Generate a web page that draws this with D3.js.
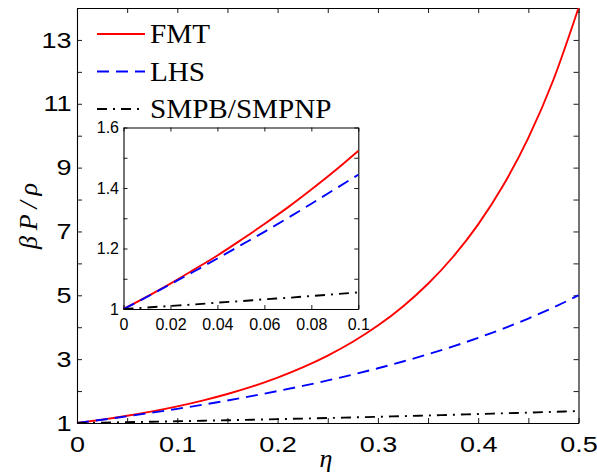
<!DOCTYPE html>
<html>
<head>
<meta charset="utf-8">
<script src="https://cdn.jsdelivr.net/npm/d3@7"></script>
<style>
  html, body { margin: 0; padding: 0; background: #fff; }
  svg { display: block; }
</style>
</head>
<body>
<svg id="chart" width="597" height="475"></svg>
<script>
// Packing fraction (main panel)
const eta = [0, 0.025, 0.05, 0.075, 0.1, 0.125, 0.15, 0.175, 0.2, 0.225, 0.25,
             0.275, 0.3, 0.325, 0.35, 0.375, 0.4, 0.425, 0.45, 0.475, 0.5];
// Reduced pressure βP/ρ for each theory
const fmt  = [1, 1.107, 1.228, 1.365, 1.523, 1.703, 1.909, 2.147, 2.422, 2.740, 3.111,
              3.544, 4.052, 4.652, 5.362, 6.208, 7.222, 8.446, 9.932, 11.753, 14.0];
const lhs  = [1, 1.103, 1.211, 1.324, 1.444, 1.571, 1.706, 1.848, 2.000, 2.161, 2.333,
              2.517, 2.714, 2.926, 3.154, 3.400, 3.667, 3.957, 4.273, 4.619, 5.0];
const smpb = [1, 1.013, 1.026, 1.040, 1.055, 1.070, 1.086, 1.103, 1.120, 1.138, 1.156,
              1.175, 1.195, 1.215, 1.236, 1.258, 1.280, 1.303, 1.326, 1.350, 1.375];

// Low-density close-up (inset)
const etaInset  = [0, 0.01, 0.02, 0.03, 0.04, 0.05, 0.06, 0.07, 0.08, 0.09, 0.1];
const fmtInset  = [1, 1.041, 1.084, 1.130, 1.177, 1.228, 1.281, 1.336, 1.395, 1.457, 1.523];
const lhsInset  = [1, 1.040, 1.082, 1.124, 1.167, 1.211, 1.255, 1.301, 1.348, 1.396, 1.444];
const smpbInset = [1, 1.005, 1.010, 1.015, 1.021, 1.026, 1.032, 1.037, 1.043, 1.049, 1.055];

// Ticks
const xTicks       = [0, 0.05, 0.1, 0.15, 0.2, 0.25, 0.3, 0.35, 0.4, 0.45, 0.5];
const xTickLabels  = ["0", "", "0.1", "", "0.2", "", "0.3", "", "0.4", "", "0.5"];
const yTicks       = [1, 2, 3, 4, 5, 6, 7, 8, 9, 10, 11, 12, 13, 14];
const yTickLabels  = ["1", "", "3", "", "5", "", "7", "", "9", "", "11", "", "13", ""];
const ixTicks      = [0, 0.02, 0.04, 0.06, 0.08, 0.1];
const ixTickLabels = ["0", "0.02", "0.04", "0.06", "0.08", "0.1"];
const iyTicks      = [1, 1.1, 1.2, 1.3, 1.4, 1.5, 1.6];
const iyTickLabels = ["1", "", "1.2", "", "1.4", "", "1.6"];

// Legend entries
const seriesNames = ["FMT", "LHS", "SMPB/SMPNP"];

const styles = [
  { color: "#ff0000", dash: null },
  { color: "#0000ff", dash: "12,7" },
  { color: "#000000", dash: "10,6,2,6" }
];

const svg = d3.select("#chart");
const sansFont = "'Liberation Sans', Arial, Helvetica, sans-serif";
const serifFont = "'Liberation Serif', 'Times New Roman', serif";

// ---------- main panel ----------
const x = d3.scaleLinear().domain([0, 0.5]).range([77, 578.5]);
const y = d3.scaleLinear().domain([1, 14]).range([423, 8]);

function styleAxis(g, fontSize) {
  g.selectAll("path.domain").attr("stroke", "#000").attr("stroke-width", 1.1);
  g.selectAll(".tick line").attr("stroke", "#000").attr("stroke-width", 0.9);
  g.selectAll(".tick text").attr("fill", "#000")
    .style("font-family", sansFont).style("font-size", fontSize + "px");
}

const fmtLabel = (vals, labels) => d => labels[vals.indexOf(d)] ?? "";

// white plot area
svg.append("rect").attr("x", x(0)).attr("y", y(14))
  .attr("width", x(0.5) - x(0)).attr("height", y(1) - y(14)).attr("fill", "#fff");

const gxB = svg.append("g").attr("transform", `translate(0,${y(1)})`)
  .call(d3.axisBottom(x).tickValues(xTicks).tickFormat(fmtLabel(xTicks, xTickLabels))
        .tickSizeInner(-5).tickSizeOuter(0).tickPadding(13.5));
styleAxis(gxB, 22.5);
gxB.selectAll(".tick text").attr("transform", "scale(1.2,1)");

const gyL = svg.append("g").attr("transform", `translate(${x(0)},0)`)
  .call(d3.axisLeft(y).tickValues(yTicks).tickFormat(fmtLabel(yTicks, yTickLabels))
        .tickSizeInner(-5).tickSizeOuter(0).tickPadding(4.5));
styleAxis(gyL, 22.5);
gyL.selectAll(".tick text").attr("transform", "scale(1.2,1)");

const gxT = svg.append("g").attr("transform", `translate(0,${y(14)})`)
  .call(d3.axisTop(x).tickValues(xTicks).tickFormat("").tickSizeInner(-5).tickSizeOuter(0));
styleAxis(gxT, 22.5);

const gyR = svg.append("g").attr("transform", `translate(${x(0.5)},0)`)
  .call(d3.axisRight(y).tickValues(yTicks).tickFormat("").tickSizeInner(-5).tickSizeOuter(0));
styleAxis(gyR, 22.5);

const mainSeries = [fmt, lhs, smpb];
const mainLine = vals => d3.line()
  .x((d, i) => x(eta[i])).y(d => y(d))
  .curve(d3.curveMonotoneX)(vals);

mainSeries.forEach((vals, k) => {
  svg.append("path")
    .attr("d", mainLine(vals))
    .attr("fill", "none")
    .attr("stroke", styles[k].color)
    .attr("stroke-width", 1.9)
    .attr("stroke-dasharray", styles[k].dash);
});

// axis titles
svg.append("text")
  .attr("transform", "translate(36.5,216) rotate(-90)")
  .attr("text-anchor", "middle")
  .attr("textLength", 66).attr("lengthAdjust", "spacing")
  .style("font-family", serifFont).style("font-style", "italic").style("font-size", "26px")
  .text("βP/ρ");

svg.append("text")
  .attr("x", 326).attr("y", 467)
  .attr("text-anchor", "middle")
  .style("font-family", serifFont).style("font-style", "italic").style("font-size", "26px")
  .text("η");

// legend
const legendY = [34, 71.5, 109];
seriesNames.forEach((name, k) => {
  svg.append("line")
    .attr("x1", 97).attr("x2", 145)
    .attr("y1", legendY[k]).attr("y2", legendY[k])
    .attr("stroke", styles[k].color)
    .attr("stroke-width", 1.9)
    .attr("stroke-dasharray", styles[k].dash);
  svg.append("text")
    .attr("transform", `translate(150,${legendY[k] + 9.3}) scale(1.08,1)`)
    .style("font-family", serifFont).style("font-size", "27px")
    .attr("fill", "#000")
    .text(name);
});

// ---------- inset ----------
const ix = d3.scaleLinear().domain([0, 0.1]).range([123.5, 358.3]);
const iy = d3.scaleLinear().domain([1, 1.6]).range([309, 127.5]);

svg.append("rect").attr("x", ix(0)).attr("y", iy(1.6))
  .attr("width", ix(0.1) - ix(0)).attr("height", iy(1) - iy(1.6)).attr("fill", "#fff");

const ixB = svg.append("g").attr("transform", `translate(0,${iy(1)})`)
  .call(d3.axisBottom(ix).tickValues(ixTicks).tickFormat(fmtLabel(ixTicks, ixTickLabels))
        .tickSizeInner(-4).tickSizeOuter(0).tickPadding(9.5));
styleAxis(ixB, 16);

const iyL = svg.append("g").attr("transform", `translate(${ix(0)},0)`)
  .call(d3.axisLeft(iy).tickValues(iyTicks).tickFormat(fmtLabel(iyTicks, iyTickLabels))
        .tickSizeInner(-4).tickSizeOuter(0).tickPadding(4.5));
styleAxis(iyL, 16);

const ixT = svg.append("g").attr("transform", `translate(0,${iy(1.6)})`)
  .call(d3.axisTop(ix).tickValues(ixTicks).tickFormat("").tickSizeInner(-4).tickSizeOuter(0));
styleAxis(ixT, 16);

const iyR = svg.append("g").attr("transform", `translate(${ix(0.1)},0)`)
  .call(d3.axisRight(iy).tickValues(iyTicks).tickFormat("").tickSizeInner(-4).tickSizeOuter(0));
styleAxis(iyR, 16);

const insetSeries = [fmtInset, lhsInset, smpbInset];
const insetLine = vals => d3.line()
  .x((d, i) => ix(etaInset[i])).y(d => iy(d))
  .curve(d3.curveMonotoneX)(vals);

insetSeries.forEach((vals, k) => {
  svg.append("path")
    .attr("d", insetLine(vals))
    .attr("fill", "none")
    .attr("stroke", styles[k].color)
    .attr("stroke-width", 1.9)
    .attr("stroke-dasharray", styles[k].dash);
});
</script>
</body>
</html>
